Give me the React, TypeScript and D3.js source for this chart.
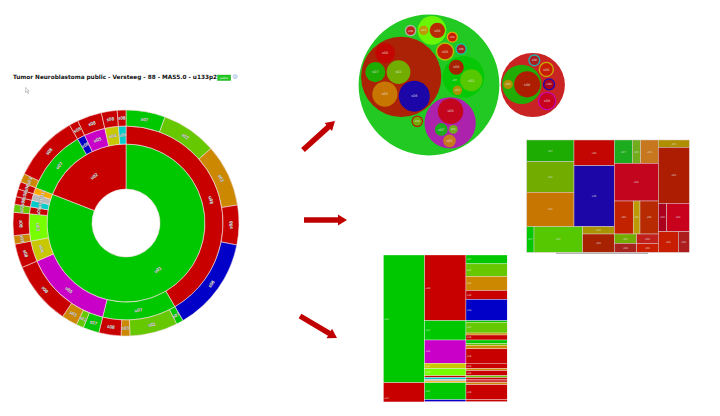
import * as d3 from "d3";

// colour names used by every view
const palette: Record<string, string> = {
  green: "#00c800",
  red: "#c80000",
  blue: "#0000c8",
  magenta: "#c800c8",
  yellow: "#c8c800",
  lime: "#77ff00",
  cyan: "#00cccc",
  grey: "#bbbbbb",
  orange: "#ffaa00",
  brown: "#cc8800",
  olive: "#66c800",
};

// first level
const topIds = ["G", "R"];
const topColors = ["green", "red"];
const topLabels = ["u01", "u02"];

// second level
const midIds = ["G1", "G2", "G3", "G4", "G5", "G6", "G7", "G8", "G9", "R1", "R2", "R3", "R4", "R5"];
const midParents = ["G", "G", "G", "G", "G", "G", "G", "G", "G", "R", "R", "R", "R", "R"];
const midColors = ["red", "green", "magenta", "yellow", "lime", "red", "cyan", "grey", "orange", "green", "blue", "magenta", "yellow", "cyan"];
const midLabels = ["u08", "u07", "u05", "u04", "u03", "u08", "u09", "u10", "u11", "u07", "u06", "u05", "u04", "u09"];

// leaves (samples)
const leafParents = ["G1", "G1", "G1", "G1", "G1", "G2", "G2", "G2", "G2", "G3", "G3", "G3", "G3", "G4", "G5", "G5", "G6", "G7", "G8", "G9", "R1", "R1", "R2", "R3", "R4", "R5"];
const leafColors = ["green", "olive", "brown", "red", "blue", "green", "olive", "brown", "red", "green", "olive", "brown", "red", "red", "brown", "red", "olive", "red", "red", "red", "brown", "red", "red", "red", "red", "red"];
const leafValues = [1026, 1447, 1627, 1036, 2458, 187, 1247, 231, 578, 419, 196, 410, 1659, 627, 221, 604, 208, 201, 202, 194, 226, 1736, 239, 642, 412, 227];
const leafLabels = ["s07", "s02", "s03", "s08", "s06", "s07", "s02", "s03", "s08", "s07", "s02", "s03", "s08", "s08", "s03", "s08", "s02", "s08", "s08", "s08", "s03", "s08", "s08", "s08", "s08", "s08"];

const title = "Tumor Neuroblastoma public - Versteeg - 88 - MAS5.0 - u133p2";

// decorative arrows [x1, y1, x2, y2]
const arrows = [
  [303, 150, 335, 121],
  [304, 220, 347, 220],
  [300, 316, 337, 338],
];

type Row = { id: string; parent: string | null; color: string; value: number; label: string };

const rows: Row[] = [
  { id: "root", parent: null, color: "grey", value: 0, label: "" },
  ...topIds.map((id, i) => ({ id, parent: "root", color: topColors[i], value: 0, label: topLabels[i] })),
  ...midIds.map((id, i) => ({ id, parent: midParents[i], color: midColors[i], value: 0, label: midLabels[i] })),
  ...leafParents.map((p, i) => ({ id: "L" + i, parent: p, color: leafColors[i], value: leafValues[i], label: leafLabels[i] })),
];

const makeRoot = () =>
  d3.stratify<Row>().id(d => d.id).parentId(d => d.parent)(rows).sum(d => d.value);

// blended colour used by pack + treemap
const tint = (n: any): string =>
  n.depth === 0 ? "#cccccc" : d3.interpolateRgb(palette[n.data.color], tint(n.parent))(0.17);

const font = "DejaVu Sans, Verdana, sans-serif";

function Sunburst() {
  const root = d3.partition<Row>().size([2 * Math.PI, 4])(makeRoot());
  const r = d3.scaleLinear().domain([1, 2, 3, 4]).range([34, 79, 97, 113]);
  const arc = d3.arc<any>()
    .startAngle(d => d.x0)
    .endAngle(d => d.x1)
    .innerRadius(d => r(d.y0))
    .outerRadius(d => r(d.y1));
  const nodes = root.descendants().filter(d => d.depth > 0);
  return (
    <g transform="translate(126,223)">
      {nodes.map((d: any, i) => (
        <path key={i} d={arc(d)!} fill={palette[d.data.color]} stroke="#f3dede" strokeWidth={0.6} />
      ))}
      {nodes.map((d: any, i) => {
        const [cx, cy] = arc.centroid(d);
        let a = ((d.x0 + d.x1) / 2) * 180 / Math.PI;
        if (a > 90 && a < 270) a += 180;
        return (
          <text key={i} transform={`translate(${cx},${cy}) rotate(${a})`} textAnchor="middle" dy="0.35em"
            fontSize={4.2} fontFamily={font} fill="#fff" stroke="#777" strokeWidth={0.35} paintOrder="stroke">
            {d.data.label}
          </text>
        );
      })}
    </g>
  );
}

function Pack() {
  const size = 209;
  const root = d3.pack<Row>().size([size, size]).padding(1.6)(makeRoot());
  const nodes = root.descendants().filter(d => d.depth > 0);
  return (
    <g transform={`translate(${461.75 - size / 2},${85 - size / 2})`}>
      {nodes.map((d: any, i) => (
        <circle key={i} cx={d.x} cy={d.y} r={d.r} fill={tint(d)} />
      ))}
      {nodes.filter(d => !d.children).map((d: any, i) => (
        <text key={i} x={d.x} y={d.y} dy="0.35em" textAnchor="middle" fontSize={Math.min(3.4, d.r / 1.6)}
          fontFamily={font} fill="#e8e8e8" opacity={0.85}>
          {d.data.label}
        </text>
      ))}
    </g>
  );
}

function Treemap() {
  const root = d3.treemap<Row>().size([162.6, 112.3]).tile(d3.treemapSquarify)(makeRoot());
  const leaves = root.leaves();
  return (
    <g transform="translate(526.7,140)">
      {leaves.map((d: any, i) => (
        <rect key={i} x={d.x0} y={d.y0} width={d.x1 - d.x0} height={d.y1 - d.y0}
          fill={tint(d)} stroke="#d8c8c8" strokeWidth={0.5} />
      ))}
      {leaves.map((d: any, i) => (
        <text key={i} x={(d.x0 + d.x1) / 2} y={(d.y0 + d.y1) / 2} dy="0.35em" textAnchor="middle"
          fontSize={2.6} fontFamily={font} fill="#e0e0e0" opacity={0.8}>
          {d.data.label}
        </text>
      ))}
      <line x1={29.3} x2={121.3} y1={113.3} y2={113.3} stroke="#a0a0a0" strokeWidth={1} />
    </g>
  );
}

function Icicle() {
  const root = d3.partition<Row>().size([157.8, 4])(makeRoot());
  const col = d3.scaleLinear().domain([1, 4]).range([0, 124]);
  const nodes = root.descendants().filter(d => d.depth > 0);
  return (
    <g transform="translate(383.3,255)">
      <defs>
        <clipPath id="ice-clip">
          <rect x={0} y={0} width={124} height={146.7} />
        </clipPath>
      </defs>
      <g clipPath="url(#ice-clip)">
        {nodes.map((d: any, i) => (
          <rect key={i} x={col(d.y0)} y={d.x0} width={col(d.y1) - col(d.y0)} height={d.x1 - d.x0}
            fill={palette[d.data.color]} stroke="#f4f4f4" strokeWidth={0.35} />
        ))}
        {nodes.filter((d: any) => d.x1 - d.x0 > 4).map((d: any, i) => (
          <text key={i} x={col(d.y0) + 1} y={(d.x0 + d.x1) / 2} dy="0.35em" fontSize={2.4}
            fontFamily={font} fill="#eeeeee" opacity={0.8}>
            {d.data.label}
          </text>
        ))}
      </g>
    </g>
  );
}

function Arrow({ a }: { a: number[] }) {
  const [x1, y1, x2, y2] = a;
  const len = Math.hypot(x2 - x1, y2 - y1);
  const ux = (x2 - x1) / len, uy = (y2 - y1) / len;
  const head = 9, half = 5.5;
  const bx = x2 - ux * head, by = y2 - uy * head;
  const pts = [
    [x2, y2],
    [bx - uy * half, by + ux * half],
    [bx + uy * half, by - ux * half],
  ].map(p => p.join(",")).join(" ");
  return (
    <g fill="#c00000">
      <line x1={x1} y1={y1} x2={bx + ux} y2={by + uy} stroke="#c00000" strokeWidth={5.5} />
      <polygon points={pts} />
    </g>
  );
}

export default function App() {
  return (
    <svg width={720} height={416} style={{ position: "absolute", left: 0, top: 0, background: "#fff" }}>
      <text x={13} y={79.3} fontSize={5.8} fontWeight="bold" fontFamily={font} fill="#111"
        textLength={204} lengthAdjust="spacingAndGlyphs">
        {title}
      </text>
      <rect x={217.5} y={75} width={13.3} height={5.6} fill="#22c822" stroke="#119911" strokeWidth={0.3} />
      <text x={224.1} y={78.9} fontSize={2.8} textAnchor="middle" fontFamily={font} fill="#fff">public</text>
      <circle cx={235.2} cy={76.6} r={2.2} fill="#dde8f8" stroke="#88a4d4" strokeWidth={0.4} />
      <text x={235.2} y={77.8} fontSize={3} textAnchor="middle" fontFamily={font} fill="#3366aa">i</text>
      <path d="M25.6,87.4 L25.6,92.6 L26.9,91.4 L27.9,93.6 L28.6,93.3 L27.6,91.1 L29.3,91.1 Z"
        fill="#fff" stroke="#888" strokeWidth={0.45} />

      <Sunburst />
      <Pack />
      <Treemap />
      <Icicle />
      {arrows.map((a, i) => <Arrow key={i} a={a} />)}
    </svg>
  );
}
